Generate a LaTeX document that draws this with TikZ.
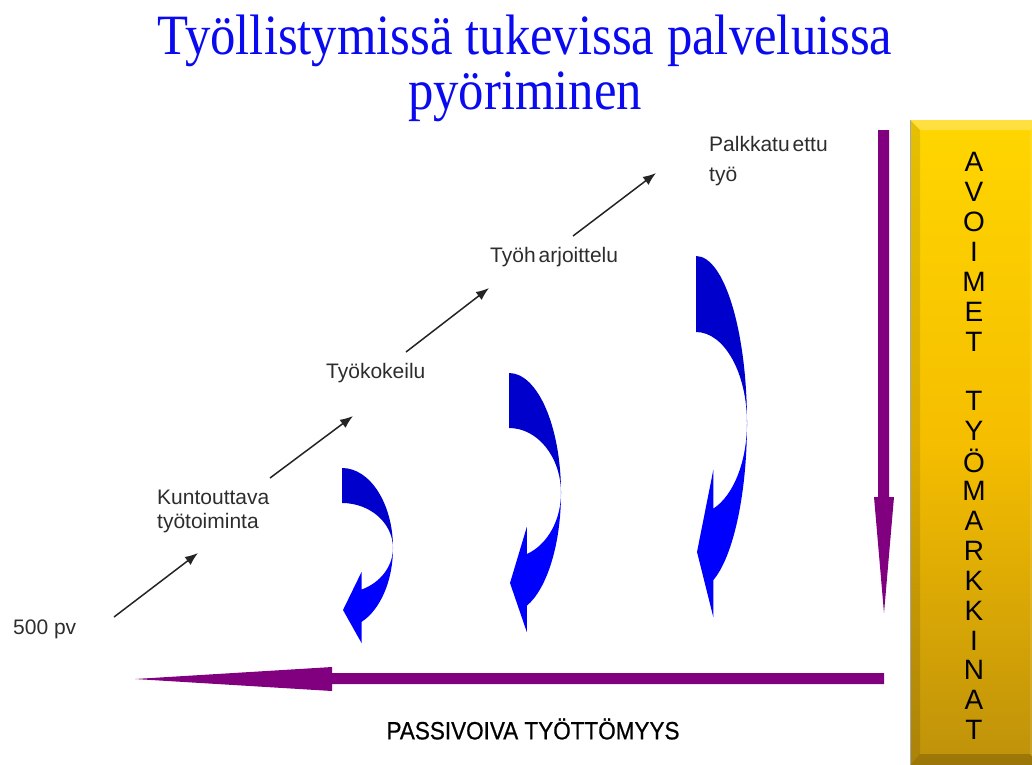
\documentclass[tikz,border=0pt]{standalone}
\usepackage{fontspec}
\setmainfont{Liberation Sans}
\newfontfamily\titlefont[FakeStretch=0.89]{Liberation Serif}
\newfontfamily\narrowfont[FakeStretch=0.9,FakeBold=0.6]{Liberation Sans}
\usetikzlibrary{arrows.meta,calc}
\definecolor{titleblue}{RGB}{10,10,240}
\definecolor{darkblue}{RGB}{0,0,204}
\definecolor{brightblue}{RGB}{0,0,255}
\definecolor{arrowpurple}{RGB}{128,0,128}
\definecolor{labelgray}{RGB}{45,45,45}
\definecolor{goldtop}{RGB}{255,214,0}
\definecolor{goldmid}{RGB}{245,190,0}
\definecolor{goldbot}{RGB}{190,145,10}
\newcommand\blueturn[9]{%
  % #1 cx, #2 cy, #3 a, #4 outer radius, #5 inner radius, #6 junction angle,
  % #7 upper barb y, #8 lower barb y, #9 tip y
  \fill[darkblue] (#1,#2-#4) arc[start angle=-90,end angle=0,x radius=#3,y radius=#4]
     arc[start angle=0,end angle=-90,x radius=#3,y radius=#5] -- cycle;
  \fill[brightblue] (#1+#3,#2) arc[start angle=0,end angle=#6,x radius=#3,y radius=#4]
     -- ({#1+#3*cos(#6)},#8)
     -- (#1+1,#9)
     -- ({#1+#3*cos(#6)},#7)
     -- ({#1+#3*cos(#6)},{#2+#5*sin(#6)})
     arc[start angle=#6,end angle=0,x radius=#3,y radius=#5] -- cycle;
}
\tikzset{
  lbl/.style={font=\fontsize{21}{25}\selectfont, text=labelgray, inner sep=0pt, anchor=west, align=left},
  steparrow/.style={draw=labelgray!80!black, line width=1.5pt, -{Latex[length=13pt,width=10pt]}},
  letter/.style={font=\fontsize{28}{28}\selectfont, text=black, inner sep=0pt, anchor=center}
}
\begin{document}
\begin{tikzpicture}[x=1pt,y=-1pt]
\useasboundingbox (0,0) rectangle (1032,764);
\clip (0,0) rectangle (1032,764);
% title
\node[font=\titlefont\fontsize{57}{55}\selectfont, text=titleblue, align=center, inner sep=0pt, anchor=north] (title) at (525,15) {Työllistymissä tukevissa palveluissa\\pyöriminen};

% labels
\node[lbl] (l500) at (13,629) {500 pv};
\node[lbl, anchor=north west] (kunt) at (157,490) {Kuntouttava\\[-1pt]työtoiminta};
\node[lbl] (kokeilu) at (326,373) {Työkokeilu};
\node[lbl] (harj) at (490,257) {Työh\kern3pt arjoittelu};
\node[lbl, anchor=north west] (palkka) at (709,136) {Palkkatu\kern3pt ettu\\[5pt]työ};

% step arrows
\coordinate (s1a) at (114,617); \coordinate (s1b) at (198,553);
\coordinate (s2a) at (270,478); \coordinate (s2b) at (353,416);
\coordinate (s3a) at (406,352); \coordinate (s3b) at (489,288);
\coordinate (s4a) at (573,236); \coordinate (s4b) at (656,173);
\draw[steparrow] (s1a) -- (s1b);
\draw[steparrow] (s2a) -- (s2b);
\draw[steparrow] (s3a) -- (s3b);
\draw[steparrow] (s4a) -- (s4b);

% blue curved arrows
\blueturn{342}{548}{51}{80}{45}{67.5}{572}{643}{610}
\blueturn{509}{493}{52}{120}{65}{70}{527}{632}{583}
\blueturn{696}{423}{51}{167}{91}{70.2}{470}{617}{552}

% purple arrows
\fill[arrowpurple] (878,130) -- (889,130) -- (889,497) -- (894,497) -- (884,613) -- (874,497) -- (878,497) -- cycle;
\fill[arrowpurple] (884,673) -- (332,673) -- (332,667) -- (135,679) -- (332,691) -- (332,684) -- (884,684) -- cycle;

\node[font=\narrowfont\fontsize{25}{25}\selectfont, inner sep=0pt, text=black] (passiv) at (533,729) {PASSIVOIVA TYÖTTÖMYYS};

% golden box
\shade[top color=goldtop, bottom color=goldbot, middle color=goldmid] (910,120) rectangle (1040,766);
\fill[white, opacity=0.25] (910,120) -- (1040,120) -- (1030,130) -- (920,130) -- cycle;
\fill[black, opacity=0.10] (910,120) -- (920,130) -- (920,754) -- (910,766) -- cycle;
\fill[white, opacity=0.12] (1040,120) -- (1030,130) -- (1030,754) -- (1040,766) -- cycle;
\fill[black, opacity=0.18] (910,766) -- (920,754) -- (1030,754) -- (1040,766) -- cycle;
\draw[black!35, line width=0.8pt] (910.4,120) -- (910.4,766);
\node[inner sep=0pt, minimum width=120pt, minimum height=640pt, anchor=north west] (market) at (910,120) {};
\foreach \ch [count=\i from 0] in {A,V,O,I,M,E,T,{},T,Y,Ö,M,A,R,K,K,I,N,A,T}{
  \node[letter] (ch\i) at (974,{162+29.9*\i}) {\ch};
}
\end{tikzpicture}
\end{document}
